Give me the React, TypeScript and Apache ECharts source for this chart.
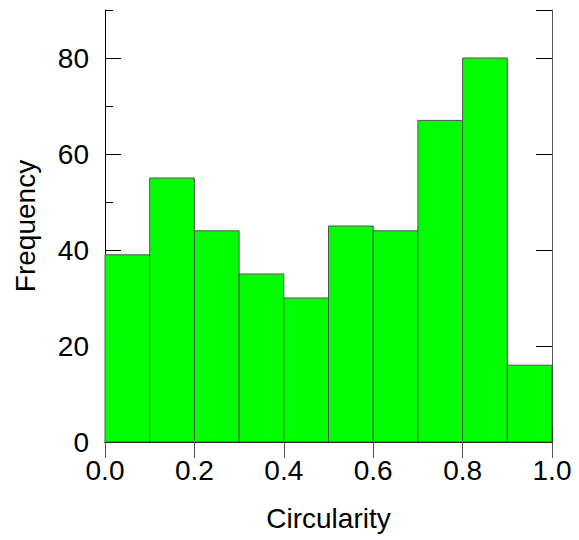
import React, { useEffect, useRef } from "react";
import * as echarts from "echarts";

const binStarts = [0.0, 0.1, 0.2, 0.3, 0.4, 0.5, 0.6, 0.7, 0.8, 0.9];
const binWidth = 0.1;
const frequencies = [39, 55, 44, 35, 30, 45, 44, 67, 80, 16];
const xTickInterval = 0.2;
const yTickInterval = 20;
const yMax = 90;

const FONT = "'Liberation Sans', Arial, Helvetica, sans-serif";

export default function App() {
  const ref = useRef<HTMLDivElement>(null);
  useEffect(() => {
    document.body.style.margin = "0";
    if (!ref.current) return;
    const chart = echarts.init(ref.current, null, { renderer: "svg" });
    const data = binStarts.map((s, i) => [s, s + binWidth, frequencies[i]]);
    const labelStyle = { fontFamily: FONT, fontSize: 28, color: "#000" };
    chart.setOption({
      animation: false,
      backgroundColor: "#fff",
      grid: { left: 105, top: 10, width: 447, height: 432, show: false },
      xAxis: [
        {
          type: "value",
          position: "bottom",
          min: 0,
          max: 1,
          interval: xTickInterval,
          name: "Circularity",
          nameLocation: "middle",
          nameGap: 62,
          nameTextStyle: { fontFamily: FONT, fontSize: 28, color: "#000" },
          axisLine: { show: true, lineStyle: { color: "#000", width: 1 } },
          axisTick: { show: true, inside: true, length: 16, lineStyle: { color: "#000" } },
          axisLabel: { ...labelStyle, margin: 14, formatter: (v: number) => v.toFixed(1) },
          splitLine: { show: false },
        },
        {
          type: "value",
          position: "top",
          min: 0,
          max: 1,
          interval: xTickInterval,
          axisLine: { show: true, lineStyle: { color: "#000", width: 1 } },
          axisTick: { show: true, inside: true, length: 16, lineStyle: { color: "#555" } },
          axisLabel: { show: false },
          splitLine: { show: false },
        },
      ],
      yAxis: [
        {
          type: "value",
          position: "left",
          min: 0,
          max: yMax,
          interval: yTickInterval,
          name: "Frequency",
          nameLocation: "middle",
          nameGap: 66,
          nameTextStyle: { fontFamily: FONT, fontSize: 28, color: "#000" },
          axisLine: { show: true, lineStyle: { color: "#000", width: 1 } },
          axisTick: { show: true, inside: true, length: 16, lineStyle: { color: "#000" } },
          axisLabel: { ...labelStyle, margin: 16, showMaxLabel: false },
          splitLine: { show: false },
        },
        {
          type: "value",
          position: "left",
          min: 0,
          max: yMax,
          interval: yTickInterval / 2,
          axisLine: { show: false },
          axisTick: { show: true, inside: true, length: 8, lineStyle: { color: "#000" } },
          axisLabel: { show: false },
          splitLine: { show: false },
        },
        {
          type: "value",
          position: "right",
          min: 0,
          max: yMax,
          interval: yTickInterval,
          axisLine: { show: true, lineStyle: { color: "#555", width: 1 } },
          axisTick: { show: true, inside: true, length: 16, lineStyle: { color: "#000" } },
          axisLabel: { show: false },
          splitLine: { show: false },
        },
      ],
      series: [
        {
          type: "custom",
          xAxisIndex: 0,
          yAxisIndex: 0,
          data,
          renderItem: (params: any, api: any) => {
            const x0 = api.value(0);
            const x1 = api.value(1);
            const y = api.value(2);
            const p0 = api.coord([x0, y]);
            const p1 = api.coord([x1, 0]);
            return {
              type: "rect",
              shape: { x: p0[0], y: p0[1], width: p1[0] - p0[0], height: p1[1] - p0[1] },
              style: { fill: "#00ff00", stroke: "#555555", lineWidth: 1 },
            };
          },
        },
      ],
    });
    return () => chart.dispose();
  }, []);
  return <div ref={ref} style={{ width: 579, height: 540 }} />;
}
